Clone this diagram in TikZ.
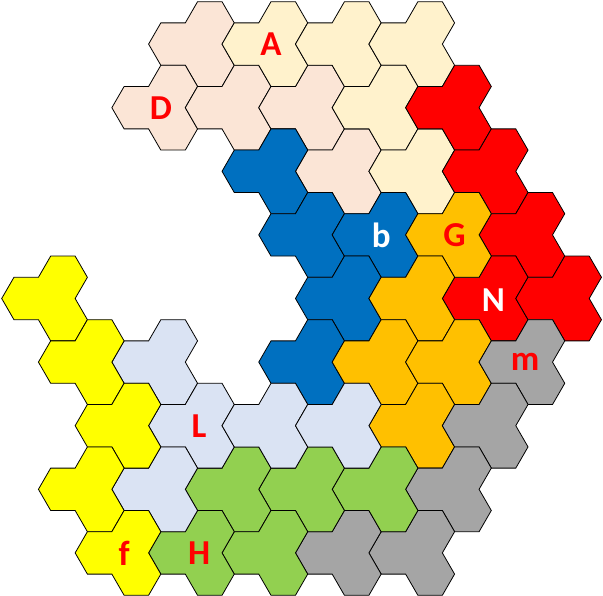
\documentclass[tikz,border=0pt]{standalone}
\usepackage{fontspec}
\setmainfont{Carlito}
\definecolor{cpink}{HTML}{FBE5D6}
\definecolor{clyel}{HTML}{FFF2CC}
\definecolor{cred}{HTML}{FF0000}
\definecolor{cblue}{HTML}{0070C0}
\definecolor{corange}{HTML}{FFC000}
\definecolor{cgrey}{HTML}{A5A5A5}
\definecolor{cgreen}{HTML}{92D050}
\definecolor{clblue}{HTML}{DAE3F3}
\definecolor{cyel}{HTML}{FFFF00}
\tikzset{
  piece/.style={draw=black, line width=0.8pt, line join=miter},
  lab/.style={font=\fontsize{35}{35}\selectfont\bfseries, inner sep=0pt, text=cred},
  labw/.style={lab, text=white}
}
% piece with single hex at (q,k) and two hexes to its right
\newcommand\tripiece[3]{%
  \pgfmathsetmacro\cx{136.35+36.72*(#1)}%
  \pgfmathsetmacro\cy{107.7+21.2*(#2)}%
  \filldraw[piece, fill=#3] (\cx-24.48,\cy) -- ++(12.24,-21.2) -- ++(24.48,0) -- ++(12.24,-21.2)
    -- ++(24.48,0) -- ++(12.24,21.2) -- ++(-12.24,21.2) -- ++(12.24,21.2) -- ++(-12.24,21.2)
    -- ++(-24.48,0) -- ++(-12.24,-21.2) -- ++(-24.48,0) -- cycle;
}
\newcommand\triname[5]{%
  \pgfmathsetmacro\lx{136.35+36.72*(#1)+24.48}%
  \pgfmathsetmacro\ly{107.7+21.2*(#2)}%
  \node[#3] (#4) at (\lx,\ly) {#5};
}
\begin{document}
\begin{tikzpicture}[x=1pt,y=-1pt]
\useasboundingbox (0,0) rectangle (603,596);
\foreach \q/\k in {1/-3,0/0,2/0,4/0,5/3} {\tripiece{\q}{\k}{cpink}}
\foreach \q/\k in {3/-3,5/-3,7/-3,6/0,7/3} {\tripiece{\q}{\k}{clyel}}
\foreach \q/\k in {8/0,9/3,10/6,9/9,11/9} {\tripiece{\q}{\k}{cred}}
\foreach \q/\k in {3/3,4/6,6/6,5/9,4/12} {\tripiece{\q}{\k}{cblue}}
\foreach \q/\k in {8/6,7/9,6/12,8/12,7/15} {\tripiece{\q}{\k}{corange}}
\foreach \q/\k in {10/12,9/15,8/18,7/21,5/21} {\tripiece{\q}{\k}{cgrey}}
\foreach \q/\k in {6/18,4/18,2/18,3/21,1/21} {\tripiece{\q}{\k}{cgreen}}
\foreach \q/\k in {0/12,1/15,3/15,5/15,0/18} {\tripiece{\q}{\k}{clblue}}
\foreach \q/\k in {-3/9,-2/12,-1/15,-2/18,-1/21} {\tripiece{\q}{\k}{cyel}}
\triname{3}{-3}{lab}{lA}{A}
\triname{0}{0}{lab}{lD}{D}
\triname{6}{6}{labw}{lb}{b}
\triname{8}{6}{lab}{lG}{G}
\triname{9}{9}{labw, xshift=2pt, yshift=-1.5pt}{lN}{N}
\triname{10}{12}{lab, xshift=-3pt}{lm}{m}
\triname{1}{15}{lab, xshift=1.5pt}{lL}{L}
\triname{-1}{21}{lab}{lf}{f}
\triname{1}{21}{lab, xshift=1.5pt}{lH}{H}
\end{tikzpicture}
\end{document}
